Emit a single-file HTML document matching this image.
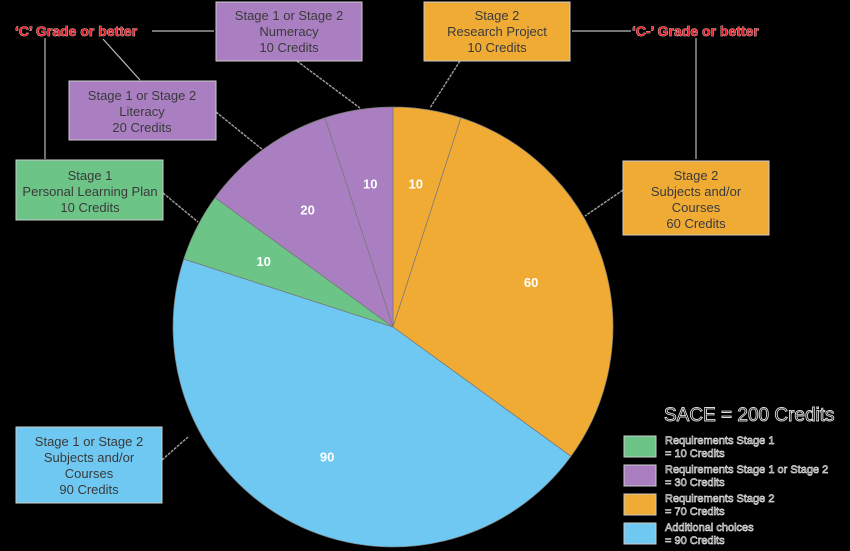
<!DOCTYPE html>
<html><head><meta charset="utf-8"><style>
body{margin:0;background:#000;}
svg{display:block;font-family:"Liberation Sans",sans-serif;}
.bt{font-size:13px;fill:#3a3a3a;text-anchor:middle;}
.red{font-size:14px;font-weight:bold;fill:#e8202a;stroke:#fff;stroke-width:0.6;paint-order:stroke;}
.lg{font-size:11px;fill:#000;stroke:#ddd;stroke-width:0.7;}
</style></head><body>
<svg id="c" width="850" height="551" viewBox="0 0 850 551">
<g id="pie"></g>
<g stroke="#999" stroke-width="1.5" stroke-dasharray="3,1" fill="none">
<line x1="297" y1="61" x2="360" y2="108"/>
<line x1="460" y1="61" x2="430" y2="108"/>
<line x1="216" y1="112" x2="263" y2="150"/>
<line x1="163" y1="193" x2="198" y2="222"/>
<line x1="623" y1="190" x2="585" y2="216"/>
<line x1="162" y1="460" x2="188" y2="437"/>
</g>
<g stroke="#bbb" stroke-width="1.2" fill="none">
<line x1="152" y1="31" x2="214" y2="31"/>
<line x1="45" y1="38" x2="45" y2="159"/>
<line x1="103" y1="39" x2="140" y2="80"/>
<line x1="631" y1="31" x2="572" y2="31"/>
<line x1="696" y1="38" x2="696" y2="159"/>
</g>
<text class="red" x="15" y="36">‘C’ Grade or better</text>
<text class="red" x="632" y="36">‘C-’ Grade or better</text>
<g><rect x="216" y="2" width="146" height="59" fill="#a97fc1" stroke="#ccc"/>
<text class="bt" x="289" y="20">Stage 1 or Stage 2</text><text class="bt" x="289" y="36">Numeracy</text><text class="bt" x="289" y="52">10 Credits</text></g>
<g><rect x="69" y="81" width="147" height="59" fill="#a97fc1" stroke="#ccc"/>
<text class="bt" x="142" y="100">Stage 1 or Stage 2</text><text class="bt" x="142" y="116">Literacy</text><text class="bt" x="142" y="132">20 Credits</text></g>
<g><rect x="16" y="160" width="147" height="60" fill="#6cc487" stroke="#ccc"/>
<text class="bt" x="90" y="180">Stage 1</text><text class="bt" x="90" y="196">Personal Learning Plan</text><text class="bt" x="90" y="212">10 Credits</text></g>
<g><rect x="424" y="2" width="146" height="59" fill="#f0ab35" stroke="#ccc"/>
<text class="bt" x="497" y="20">Stage 2</text><text class="bt" x="497" y="36">Research Project</text><text class="bt" x="497" y="52">10 Credits</text></g>
<g><rect x="623" y="161" width="146" height="74" fill="#f0ab35" stroke="#ccc"/>
<text class="bt" x="696" y="180">Stage 2</text><text class="bt" x="696" y="196">Subjects and/or</text><text class="bt" x="696" y="212">Courses</text><text class="bt" x="696" y="228">60 Credits</text></g>
<g><rect x="16" y="427" width="146" height="76" fill="#6ec8f2" stroke="#ccc"/>
<text class="bt" x="89" y="446">Stage 1 or Stage 2</text><text class="bt" x="89" y="462">Subjects and/or</text><text class="bt" x="89" y="478">Courses</text><text class="bt" x="89" y="494">90 Credits</text></g>
<g>
<text x="664" y="421" font-size="19" fill="#000" stroke="#ddd" stroke-width="0.9">SACE = 200 Credits</text>
<rect x="624" y="436" width="32" height="21" fill="#6cc487" stroke="#ccc"/>
<text class="lg" x="665" y="444">Requirements Stage 1</text><text class="lg" x="665" y="457">= 10 Credits</text>
<rect x="624" y="465" width="32" height="21" fill="#a97fc1" stroke="#ccc"/>
<text class="lg" x="665" y="473">Requirements Stage 1 or Stage 2</text><text class="lg" x="665" y="486">= 30 Credits</text>
<rect x="624" y="494" width="32" height="21" fill="#f0ab35" stroke="#ccc"/>
<text class="lg" x="665" y="502">Requirements Stage 2</text><text class="lg" x="665" y="515">= 70 Credits</text>
<rect x="624" y="523" width="32" height="21" fill="#6ec8f2" stroke="#ccc"/>
<text class="lg" x="665" y="531">Additional choices</text><text class="lg" x="665" y="544">= 90 Credits</text>
</g>
</svg>
<script>
const categories=["research-project","stage2-subjects","additional-choices","personal-learning-plan","literacy","numeracy"];
const values=[10,60,90,10,20,10];
const colors=["#f0ab35","#f0ab35","#6ec8f2","#6cc487","#a97fc1","#a97fc1"];
const cx=393,cy=327,r=220,ns="http://www.w3.org/2000/svg";
const g=document.getElementById("pie");
const total=values.reduce((a,b)=>a+b,0);
function pt(a,rr){return [cx+rr*Math.sin(a),cy-rr*Math.cos(a)];}
let acc=0;
values.forEach((v,i)=>{
  const a0=acc/total*2*Math.PI;acc+=v;const a1=acc/total*2*Math.PI;
  const p0=pt(a0,r),p1=pt(a1,r);
  const p=document.createElementNS(ns,"path");
  p.setAttribute("d",`M${cx},${cy}L${p0[0]},${p0[1]}A${r},${r} 0 ${a1-a0>Math.PI?1:0} 1 ${p1[0]},${p1[1]}Z`);
  p.setAttribute("fill",colors[i]);p.setAttribute("stroke","#777");p.setAttribute("stroke-width","0.7");
  
  
  g.appendChild(p);
  const am=(a0+a1)/2,lp=pt(am,r*0.66);
  const t=document.createElementNS(ns,"text");
  t.setAttribute("x",lp[0]);t.setAttribute("y",lp[1]+5);t.setAttribute("text-anchor","middle");
  t.setAttribute("font-size","13");t.setAttribute("font-weight","bold");t.setAttribute("fill","#fff");
  t.textContent=v;
  
  
  g.appendChild(t);
});
</script>
</body></html>
